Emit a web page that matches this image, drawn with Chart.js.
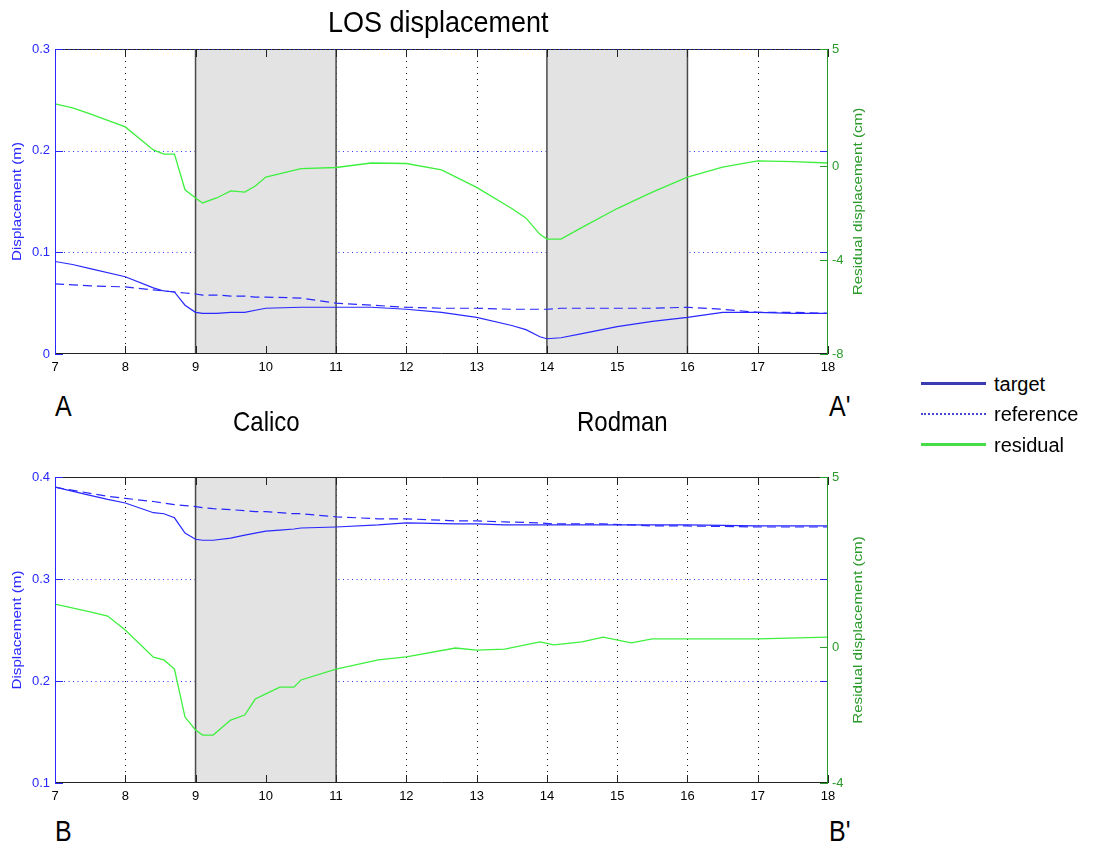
<!DOCTYPE html>
<html>
<head>
<meta charset="utf-8">
<script src="https://cdn.jsdelivr.net/npm/chart.js@4.4.0/dist/chart.umd.min.js"></script>
<style>
  html, body { margin: 0; padding: 0; background: #fff; }
  #page { position: relative; width: 1097px; height: 851px; overflow: hidden;
          font-family: 'Liberation Sans', Arial, sans-serif; }
  #page canvas { position: absolute; left: 0; }
  .lbl { position: absolute; line-height: 1; white-space: nowrap; color: #000;
         transform-origin: 0 50%; transform: translateY(-50%) scaleY(1.17); }
  .key { position: absolute; left: 921px; width: 65px; height: 0; }
  .keytxt { position: absolute; left: 994px; font-size: 20px; line-height: 1;
            transform: translateY(-52%); }
</style>
</head>
<body>
<div id="page">
  <canvas id="topChart" width="880" height="380" style="top:0"></canvas>
  <canvas id="botChart" width="880" height="381" style="top:428px"></canvas>

  <div class="lbl" style="left:328px; top:22px; font-size:27px; transform:translateY(-50%) scaleY(1.12)">LOS displacement</div>
  <div class="lbl" style="left:55px; top:406px; font-size:25px">A</div>
  <div class="lbl" style="left:829px; top:406px; font-size:25px">A'</div>
  <div class="lbl" style="left:233px; top:422px; font-size:24px">Calico</div>
  <div class="lbl" style="left:577px; top:422px; font-size:24px">Rodman</div>
  <div class="lbl" style="left:55px; top:831px; font-size:25px">B</div>
  <div class="lbl" style="left:829px; top:831px; font-size:25px">B'</div>

  <div class="key" style="top:382px; border-top:3px solid #3b3bb4"></div>
  <div class="keytxt" style="top:384px">target</div>
  <div class="key" style="top:413px; border-top:2px dotted #4646d2"></div>
  <div class="keytxt" style="top:414px">reference</div>
  <div class="key" style="top:443px; border-top:3px solid #45dc45"></div>
  <div class="keytxt" style="top:445px">residual</div>
</div>

<script>
// profile A–A'
const topX = [7, 7.25, 7.5, 8, 8.4, 8.55, 8.7, 8.85, 9, 9.1, 9.3, 9.5, 9.7, 9.85, 10, 10.5, 11, 11.5,
  12, 12.5, 13, 13.5, 13.7, 13.9, 14, 14.2, 14.5, 15, 15.5, 16, 16.5, 17, 17.5, 18];
const topTarget = [.091, .088, .084, .076, .065, .062, .061, .048, .041, .040, .040, .041, .041, .043,
  .045, .046, .046, .046, .044, .041, .036, .028, .024, .017, .015, .016, .020, .027, .032, .036,
  .041, .041, .040, .040];
const topReference = [.069, .068, .067, .066, .063, .062, .061, .060, .059, .058, .058, .057, .057, .056,
  .056, .055, .050, .048, .046, .045, .045, .044, .044, .044, .044, .045, .045, .045, .045, .046,
  .044, .041, .041, .040];
const topResidual = [2.66, 2.49, 2.23, 1.68, 0.70, 0.52, 0.52, -1.0, -1.35, -1.56, -1.35, -1.05, -1.1,
  -0.84, -0.46, -0.1, -0.05, 0.14, 0.12, -0.15, -0.9, -1.8, -2.2, -2.9, -3.1, -3.1, -2.6, -1.8,
  -1.1, -0.46, -0.03, 0.23, 0.2, 0.14];

// profile B–B'
const botX = [7, 7.5, 7.75, 8, 8.4, 8.55, 8.7, 8.85, 9, 9.1, 9.25, 9.5, 9.7, 9.85, 10, 10.2, 10.4,
  10.5, 11, 11.6, 12, 12.7, 13, 13.4, 13.9, 14.1, 14.5, 14.8, 15.2, 15.5, 16, 17, 18];
const botTarget = [.390, .382, .378, .3745, .365, .364, .360, .345, .339, .338, .338, .340, .343,
  .345, .347, .348, .349, .350, .351, .353, .355, .354, .354, .353, .353, .353, .353, .353, .353,
  .353, .353, .352, .352];
const botReference = [.390, .384, .381, .379, .376, .3745, .373, .372, .371, .370, .369, .368, .367,
  .366, .366, .365, .364, .364, .361, .359, .359, .357, .357, .356, .355, .354, .354, .354, .353,
  .352, .352, .351, .351];
const botResidual = [1.26, 1.03, 0.91, 0.50, -0.30, -0.38, -0.65, -2.06, -2.44, -2.59, -2.59,
  -2.15, -2.0, -1.53, -1.38, -1.18, -1.18, -0.97, -0.65, -0.38, -0.29, -0.03, -0.09, -0.06, 0.15,
  0.06, 0.15, 0.29, 0.12, 0.24, 0.24, 0.24, 0.29];

// axes
const xTicks = [7, 8, 9, 10, 11, 12, 13, 14, 15, 16, 17, 18];
const topDispTicks = [0, 0.1, 0.2, 0.3];
const topResTicks = [-8, -4, 0, 5];
const botDispTicks = [0.1, 0.2, 0.3, 0.4];
const botResTicks = [-4, 0, 5];
const topBands = [[9, 11], [14, 16]];
const botBands = [[9, 11]];

const BLUE = '#2828ff';
const GREEN = '#2a9a2a';
const tickFont = { family: "'Liberation Sans', Arial, sans-serif", size: 13 };

function hline(ctx, x0, x1, y) { ctx.beginPath(); ctx.moveTo(x0, y); ctx.lineTo(x1, y); ctx.stroke(); }
function vline(ctx, x, y0, y1) { ctx.beginPath(); ctx.moveTo(x, y0); ctx.lineTo(x, y1); ctx.stroke(); }

function rotatedLabel(ctx, text, cx, cy, color) {
  ctx.save();
  ctx.translate(cx, cy);
  ctx.rotate(-Math.PI / 2);
  ctx.scale(1.17, 1);
  ctx.font = "13px 'Liberation Sans', Arial, sans-serif";
  ctx.fillStyle = color;
  ctx.textAlign = 'center';
  ctx.textBaseline = 'middle';
  ctx.fillText(text, 0, 0);
  ctx.restore();
}

// dotted grid, shaded fault zones, inward ticks and the box
const profileAxes = {
  id: 'profileAxes',
  beforeDatasetsDraw(chart, args, opts) {
    const { ctx, chartArea: a, scales: { x, y } } = chart;
    ctx.save();
    ctx.lineWidth = 1;
    ctx.setLineDash([1, 5]);
    ctx.strokeStyle = '#111';
    xTicks.slice(1, -1).forEach(v => vline(ctx, Math.round(x.getPixelForValue(v)) + 0.5, a.top, a.bottom));
    ctx.setLineDash([1, 3.5]);
    ctx.strokeStyle = '#3030ff';
    opts.dispTicks.slice(1, -1).forEach(v => hline(ctx, a.left, a.right, Math.round(y.getPixelForValue(v)) + 0.5));
    ctx.setLineDash([]);

    opts.bands.forEach(([b0, b1]) => {
      const p0 = x.getPixelForValue(b0), p1 = x.getPixelForValue(b1);
      ctx.fillStyle = '#e3e3e3';
      ctx.fillRect(p0, a.top, p1 - p0, a.height);
      ctx.strokeStyle = '#4a4a4a';
      ctx.lineWidth = 1.5;
      vline(ctx, p0, a.top, a.bottom);
      vline(ctx, p1, a.top, a.bottom);
    });
    ctx.restore();
  },
  afterDatasetsDraw(chart, args, opts) {
    const { ctx, chartArea: a, scales: { x, y, y2 } } = chart;
    const t = 8;
    ctx.save();
    ctx.lineWidth = 1;
    ctx.strokeStyle = '#222';
    xTicks.forEach(v => {
      const px = Math.round(x.getPixelForValue(v)) + 0.5;
      vline(ctx, px, a.bottom, a.bottom - t);
      vline(ctx, px, a.top, a.top + t);
    });
    hline(ctx, a.left, a.right, a.top + 0.5);
    hline(ctx, a.left, a.right, a.bottom - 0.5);
    if (opts.dottedTop) {
      ctx.setLineDash([1, 3.5]);
      ctx.strokeStyle = '#3030ff';
      hline(ctx, a.left, a.right, a.top + 0.5);
      ctx.setLineDash([]);
    }
    ctx.strokeStyle = BLUE;
    opts.dispTicks.forEach(v => {
      const py = Math.round(y.getPixelForValue(v)) + 0.5;
      hline(ctx, a.left, a.left + t, py);
      hline(ctx, a.right - t, a.right, py);
    });
    vline(ctx, a.left + 0.5, a.top, a.bottom);
    ctx.strokeStyle = GREEN;
    opts.resTicks.forEach(v => {
      const py = Math.round(y2.getPixelForValue(v)) + 0.5;
      hline(ctx, a.right - t, a.right, py);
    });
    vline(ctx, a.right - 0.5, a.top, a.bottom);
    ctx.restore();
  },
  afterDraw(chart) {
    const { ctx, chartArea: a } = chart;
    const cy = (a.top + a.bottom) / 2;
    rotatedLabel(ctx, 'Displacement (m)', 17, cy, BLUE);
    rotatedLabel(ctx, 'Residual displacement (cm)', 858, cy, GREEN);
  }
};

function profileChart(id, xs, target, reference, residual, disp, dispTicks, res, resTicks, bands, dottedTop) {
  const pts = vals => vals.map((v, i) => ({ x: xs[i], y: v }));
  return new Chart(document.getElementById(id), {
    type: 'line',
    data: {
      datasets: [
        { label: 'target', data: pts(target), yAxisID: 'y', borderColor: BLUE, borderWidth: 1.2 },
        { label: 'reference', data: pts(reference), yAxisID: 'y', borderColor: BLUE, borderWidth: 1.2,
          borderDash: [9, 5] },
        { label: 'residual', data: pts(residual), yAxisID: 'y2', borderColor: '#3ef03e', borderWidth: 1.3 }
      ]
    },
    options: {
      responsive: false,
      animation: false,
      elements: { point: { radius: 0 }, line: { tension: 0 } },
      layout: { padding: { top: 49, left: 0, right: 0, bottom: 0 } },
      plugins: {
        legend: { display: false },
        tooltip: { enabled: false },
        profileAxes: { dispTicks, resTicks, bands, dottedTop }
      },
      scales: {
        x: {
          type: 'linear', min: 7, max: 18,
          afterBuildTicks: s => { s.ticks = xTicks.map(v => ({ value: v })); },
          afterFit: s => { s.height = 26; },
          grid: { display: false, drawTicks: false },
          border: { display: false },
          ticks: { color: '#000', font: tickFont, padding: 6, maxRotation: 0, autoSkip: false }
        },
        y: {
          position: 'left', min: disp[0], max: disp[1],
          afterBuildTicks: s => { s.ticks = dispTicks.map(v => ({ value: v })); },
          afterFit: s => { s.width = 55; },
          grid: { display: false, drawTicks: false },
          border: { display: false },
          ticks: { color: BLUE, font: tickFont, padding: 5,
                   callback: v => v === 0 ? '0' : v.toFixed(1) }
        },
        y2: {
          position: 'right', min: res[0], max: res[1],
          afterBuildTicks: s => { s.ticks = resTicks.map(v => ({ value: v })); },
          afterFit: s => { s.width = 52; },
          grid: { display: false, drawTicks: false },
          border: { display: false },
          ticks: { color: GREEN, font: tickFont, padding: 4, callback: v => String(v) }
        }
      }
    },
    plugins: [profileAxes]
  });
}

profileChart('topChart', topX, topTarget, topReference, topResidual,
  [0, 0.3], topDispTicks, [-8, 5], topResTicks, topBands, true);
profileChart('botChart', botX, botTarget, botReference, botResidual,
  [0.1, 0.4], botDispTicks, [-4, 5], botResTicks, botBands, false);
</script>
</body>
</html>
